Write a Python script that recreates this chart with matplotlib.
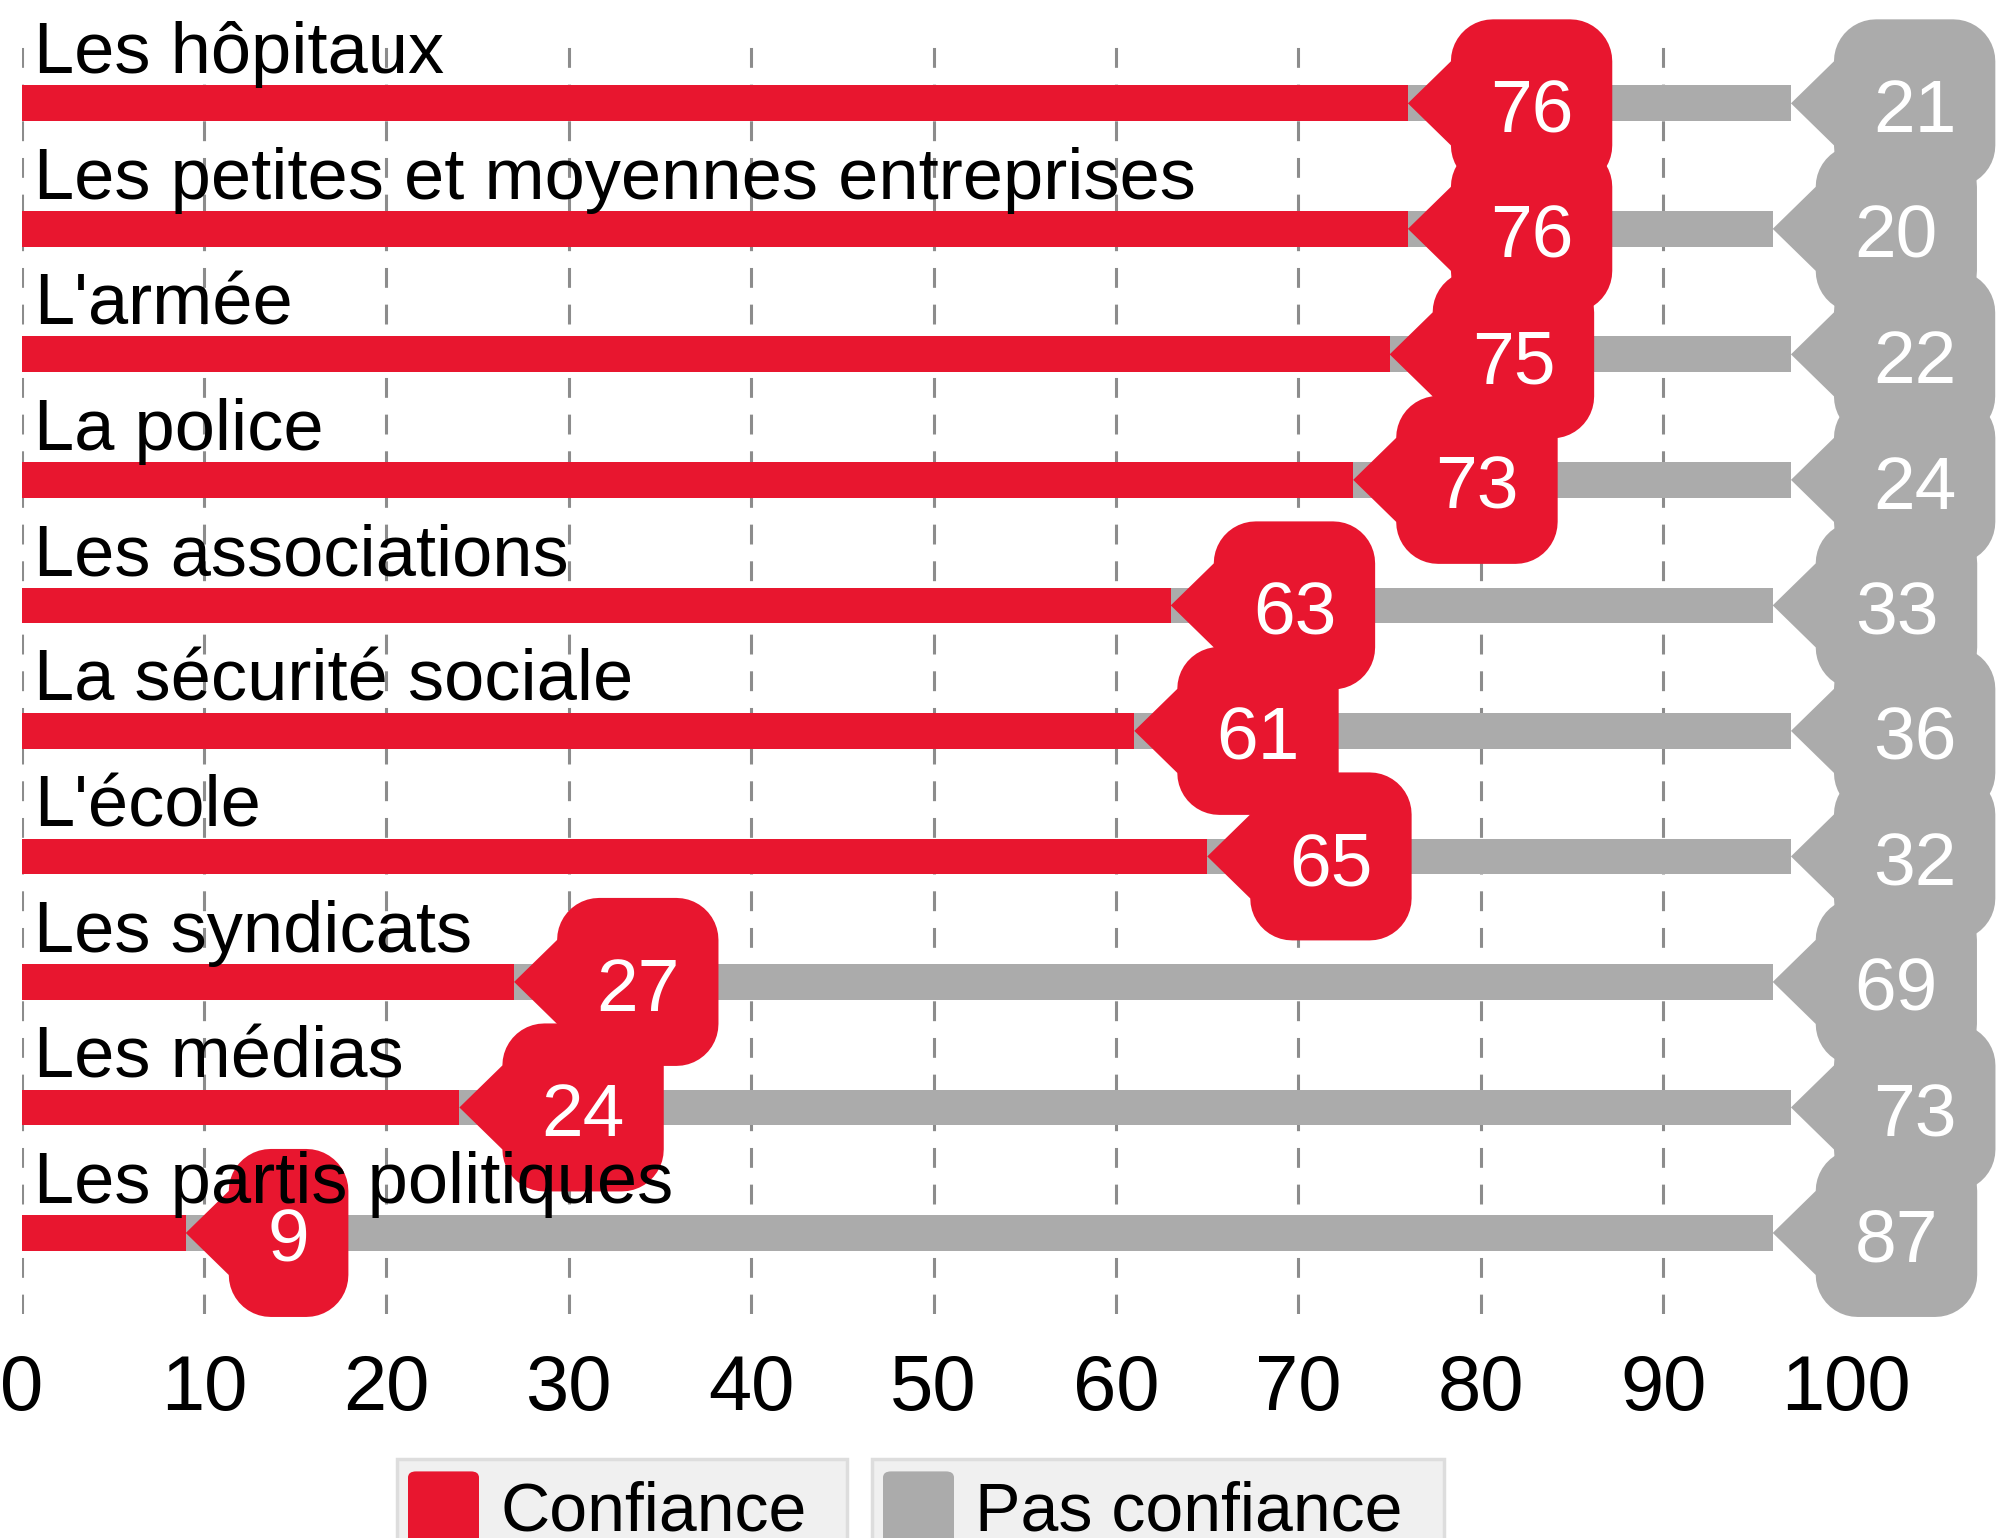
import numpy as np
import matplotlib
matplotlib.use("Agg")
import matplotlib.pyplot as plt
import matplotlib.patches as mpatches
import matplotlib.transforms as mtransforms
from matplotlib.path import Path

plt.rcParams['font.family'] = ['Liberation Sans', 'DejaVu Sans']

categories = ["Les hôpitaux", "Les petites et moyennes entreprises", "L'armée",
              "La police", "Les associations", "La sécurité sociale", "L'école",
              "Les syndicats", "Les médias", "Les partis politiques"]
confiance = [76, 76, 75, 73, 63, 61, 65, 27, 24, 9]
pas_confiance = [21, 20, 22, 24, 33, 36, 32, 69, 73, 87]
series_names = ["Confiance", "Pas confiance"]
xticks = [0, 10, 20, 30, 40, 50, 60, 70, 80, 90, 100]

RED = '#e8162f'
GREY = '#ababab'

fig = plt.figure(figsize=(20, 15.38), dpi=100)
ax = fig.add_axes([0.0108, 0.1457, 0.985, 0.8333])

ypos = np.arange(len(categories))
ax.barh(ypos, confiance, height=0.285, color=RED, zorder=2)
ax.barh(ypos, pas_confiance, left=confiance, height=0.285, color=GREY, zorder=2)

ax.set_xlim(0, 108)
ax.set_ylim(9.645, -0.566)
ax.set_xticks(xticks)
ax.set_yticks([])
ax.tick_params(axis='x', length=0, pad=28, labelsize=56)
for s in ax.spines.values():
    s.set_visible(False)
ax.grid(axis='x', color='#8c8c8c', linewidth=2.2, linestyle=(0, (6.5, 5.5)), zorder=0)

# category labels above each bar
for i, name in enumerate(categories):
    ax.text(0.7, i - 0.24, name, fontsize=52, ha='left', va='baseline', zorder=6)

renderer = fig.canvas.get_renderer()

# callout shape sizes, in pixels
ARROW = 43
HALF = 84
RAD = 42
PAD = 39


def callout(x, y, label, color):
    t = ax.annotate(label, (x, y), xytext=(0, -29), textcoords='offset pixels',
                    ha='center', va='baseline', color='white', fontsize=54, zorder=5)
    tw = t.get_window_extent(renderer).width
    w = tw + 2 * PAD
    t.xyann = (ARROW + w / 2, -29)

    def arc(cx, cy, a0, a1):
        ang = np.radians(np.linspace(a0, a1, 12))
        return list(zip(cx + RAD * np.cos(ang), cy + RAD * np.sin(ang)))

    verts = [(0, 0)]
    verts += arc(ARROW + RAD, HALF - RAD, 180, 90)
    verts += arc(ARROW + w - RAD, HALF - RAD, 90, 0)
    verts += arc(ARROW + w - RAD, -(HALF - RAD), 0, -90)
    verts += arc(ARROW + RAD, -(HALF - RAD), -90, -180)
    verts.append((0, 0))
    codes = [Path.MOVETO] + [Path.LINETO] * (len(verts) - 2) + [Path.CLOSEPOLY]
    trans = mtransforms.Affine2D() + mtransforms.ScaledTranslation(x, y, ax.transData)
    patch = mpatches.PathPatch(Path(verts, codes), facecolor=color, edgecolor='none',
                               transform=trans, zorder=4, clip_on=False)
    ax.add_patch(patch)


for i in range(len(categories)):
    callout(confiance[i], i, str(confiance[i]), RED)
    callout(confiance[i] + pas_confiance[i], i, str(pas_confiance[i]), GREY)

# legend boxes at the bottom
legend_items = [(series_names[0], RED, 0.1985, 0.225),
                (series_names[1], GREY, 0.436, 0.286)]
for name, color, x0, bw in legend_items:
    fig.patches.append(mpatches.Rectangle((x0, -0.02), bw, 0.0715, transform=fig.transFigure,
                                          facecolor='#f0f0f0', edgecolor='#dddddd',
                                          linewidth=2.5))
    fig.patches.append(mpatches.FancyBboxPatch((x0 + 0.0055, -0.03), 0.0355, 0.0733,
                                               boxstyle='round,pad=0,rounding_size=0.004',
                                               transform=fig.transFigure,
                                               facecolor=color, edgecolor='none'))
    fig.text(x0 + 0.0515, 0.005, name, fontsize=49, ha='left', va='baseline')

fig.savefig('out.png', dpi=100)
